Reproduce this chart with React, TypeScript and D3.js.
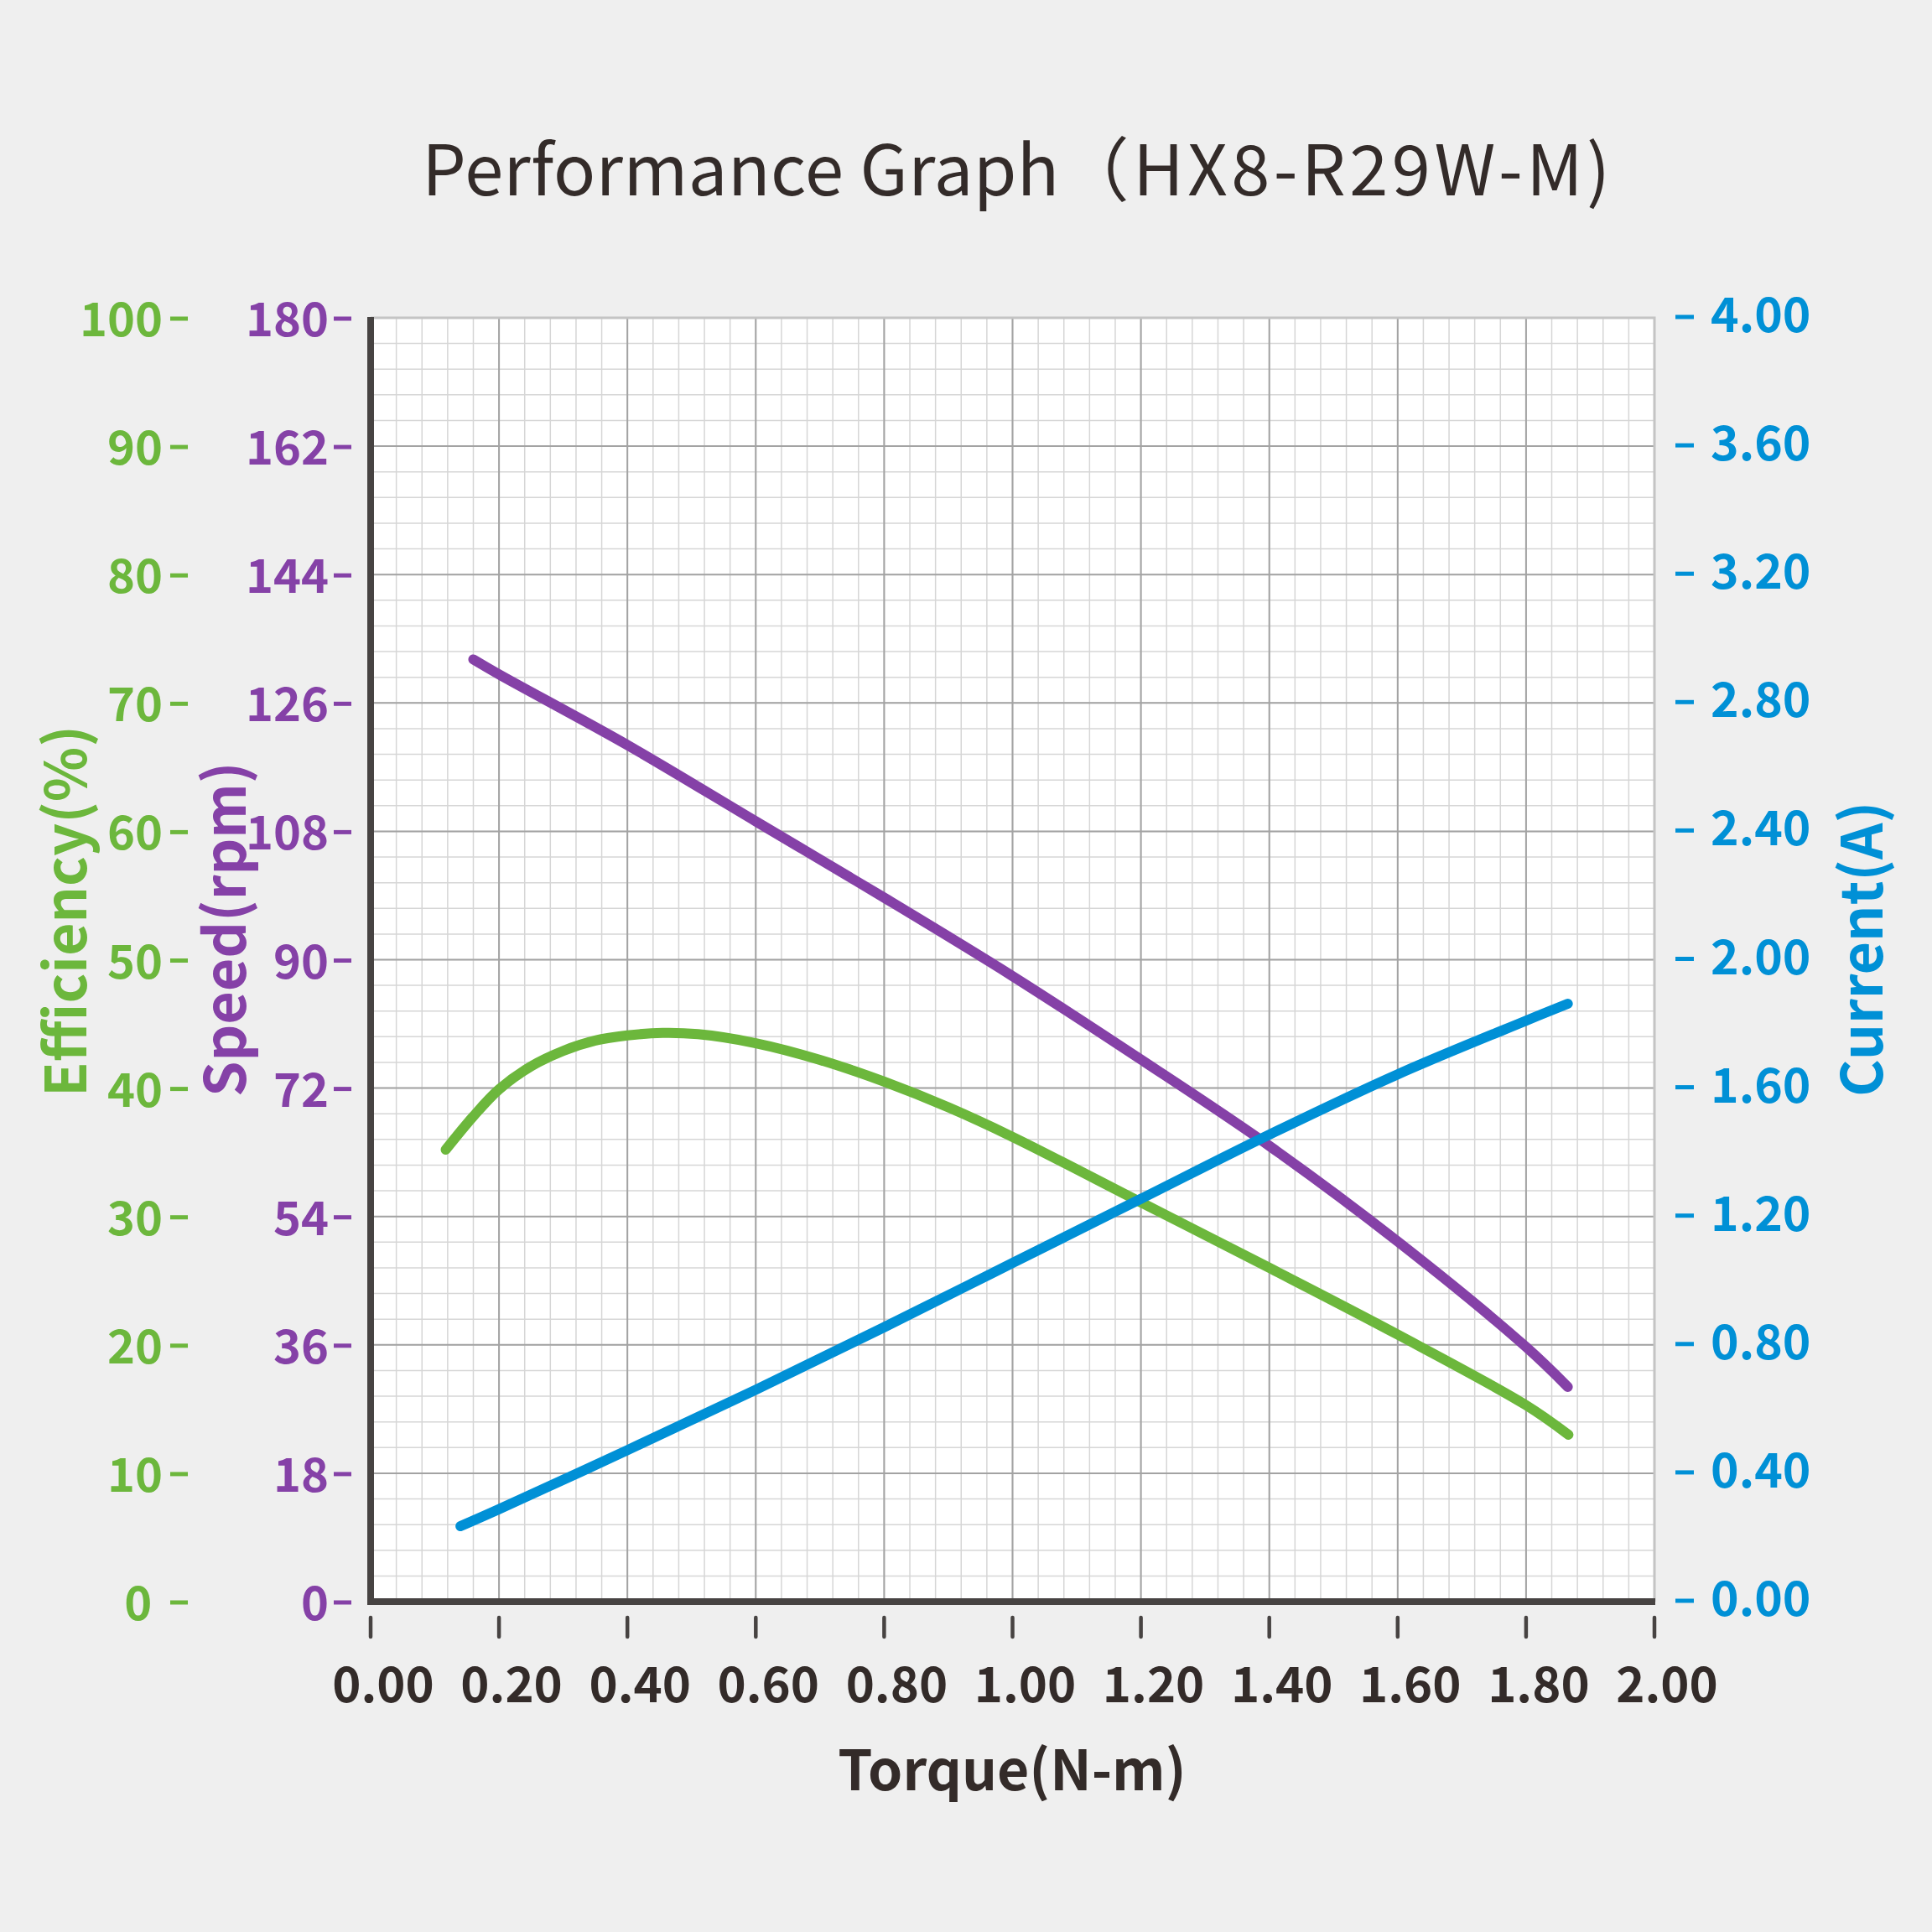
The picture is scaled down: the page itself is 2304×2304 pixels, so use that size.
import * as d3 from 'd3';
import { useEffect, useRef } from 'react';

// Axis ticks
const torqueTicks = [0, 0.2, 0.4, 0.6, 0.8, 1.0, 1.2, 1.4, 1.6, 1.8, 2.0];
const torqueLabels = ['0.00', '0.20', '0.40', '0.60', '0.80', '1.00', '1.20', '1.40', '1.60', '1.80', '2.00'];
const efficiencyTicks = [0, 10, 20, 30, 40, 50, 60, 70, 80, 90, 100];
const efficiencyLabels = ['0 ', '10', '20', '30', '40', '50', '60', '70', '80', '90', '100'];
const speedTicks = [0, 18, 36, 54, 72, 90, 108, 126, 144, 162, 180];
const speedLabels = ['0', '18', '36', '54', '72', '90', '108', '126', '144', '162', '180'];
const currentTicks = [0, 0.4, 0.8, 1.2, 1.6, 2.0, 2.4, 2.8, 3.2, 3.6, 4.0];
const currentLabels = ['0.00', '0.40', '0.80', '1.20', '1.60', '2.00', '2.40', '2.80', '3.20', '3.60', '4.00'];

// Speed curve (rpm)
const speedTorque = [0.16, 0.2, 0.4, 0.6, 0.8, 1.0, 1.2, 1.4, 1.6, 1.8, 1.865];
const speedRpm = [132.1, 130.0, 120.1, 109.4, 98.7, 87.7, 76.0, 63.9, 50.5, 35.7, 30.1];

// Efficiency curve (%)
const effTorque = [0.117, 0.16, 0.2, 0.25, 0.3, 0.35, 0.4, 0.455, 0.51, 0.6, 0.7, 0.8, 0.9, 1.0, 1.2, 1.4, 1.6, 1.8, 1.866];
const effValues = [35.2, 37.8, 39.9, 41.7, 42.9, 43.7, 44.1, 44.3, 44.2, 43.5, 42.2, 40.5, 38.5, 36.2, 31.1, 26.0, 20.8, 15.3, 13.0];

// Current curve (A)
const currentTorque = [0.14, 0.2, 0.4, 0.6, 0.8, 1.0, 1.2, 1.4, 1.6, 1.8, 1.865];
const currentValues = [0.235, 0.288, 0.472, 0.66, 0.855, 1.055, 1.255, 1.455, 1.643, 1.81, 1.863];

const FONT = '"Noto Sans CJK SC", "Noto Sans", sans-serif';
const GREEN = '#6cb73c';
const PURPLE = '#8541a7';
const BLUE = '#0090d6';
const DARK = '#474342';
const TEXT = '#332b29';

function App() {
  const svgRef = useRef<SVGSVGElement>(null);

  useEffect(() => {
    if (!svgRef.current) {
      return;
    }
    const svg = d3.select(svgRef.current);
    svg.selectAll('*').remove();

    const W = 2304;
    const H = 2304;
    const plot = { left: 442, top: 379, right: 1973, bottom: 1910 };

    svg.attr('width', W).attr('height', H);
    svg.append('rect').attr('width', W).attr('height', H).attr('fill', '#efefef');

    // Scales
    const x = d3.scaleLinear().domain([0, 2]).range([plot.left, plot.right]);
    const yEff = d3.scaleLinear().domain([0, 100]).range([plot.bottom, plot.top]);
    const ySpeed = d3.scaleLinear().domain([0, 180]).range([plot.bottom, plot.top]);
    const yCur = d3.scaleLinear().domain([0, 4]).range([plot.bottom, plot.top]);

    svg
      .append('rect')
      .attr('x', plot.left)
      .attr('y', plot.top)
      .attr('width', plot.right - plot.left)
      .attr('height', plot.bottom - plot.top)
      .attr('fill', '#ffffff');

    // Grid: 5 minor divisions per major
    const minorX = d3.range(0, 51).map((i) => i * 0.04);
    const minorY = d3.range(0, 51).map((i) => i * 3.6);
    const grid = svg.append('g');

    grid
      .selectAll('line.minor-x')
      .data(minorX)
      .join('line')
      .attr('x1', (d) => x(d))
      .attr('x2', (d) => x(d))
      .attr('y1', plot.top)
      .attr('y2', plot.bottom)
      .attr('stroke', '#d6d6d6')
      .attr('stroke-width', 1.5);

    grid
      .selectAll('line.minor-y')
      .data(minorY)
      .join('line')
      .attr('x1', plot.left)
      .attr('x2', plot.right)
      .attr('y1', (d) => ySpeed(d))
      .attr('y2', (d) => ySpeed(d))
      .attr('stroke', '#d6d6d6')
      .attr('stroke-width', 1.5);

    grid
      .selectAll('line.major-x')
      .data(torqueTicks)
      .join('line')
      .attr('x1', (d) => x(d))
      .attr('x2', (d) => x(d))
      .attr('y1', plot.top)
      .attr('y2', plot.bottom)
      .attr('stroke', '#a3a3a3')
      .attr('stroke-width', 2);

    grid
      .selectAll('line.major-y')
      .data(speedTicks)
      .join('line')
      .attr('x1', plot.left)
      .attr('x2', plot.right)
      .attr('y1', (d) => ySpeed(d))
      .attr('y2', (d) => ySpeed(d))
      .attr('stroke', '#a3a3a3')
      .attr('stroke-width', 2);

    // Light border on top and right
    svg
      .append('path')
      .attr('d', `M${plot.left},${plot.top}H${plot.right}V${plot.bottom}`)
      .attr('fill', 'none')
      .attr('stroke', '#c4c4c4')
      .attr('stroke-width', 3);

    // Curves
    const curves = [
      { xs: effTorque, ys: effValues, scale: yEff, color: GREEN },
      { xs: speedTorque, ys: speedRpm, scale: ySpeed, color: PURPLE },
      { xs: currentTorque, ys: currentValues, scale: yCur, color: BLUE },
    ];

    curves.forEach((c) => {
      const pts = c.xs.map((t, i) => [t, c.ys[i]] as [number, number]);
      const line = d3
        .line<[number, number]>()
        .x((d) => x(d[0]))
        .y((d) => c.scale(d[1]))
        .curve(d3.curveCatmullRom.alpha(0.5));
      svg
        .append('path')
        .datum(pts)
        .attr('fill', 'none')
        .attr('stroke', c.color)
        .attr('stroke-width', 12)
        .attr('stroke-linecap', 'round')
        .attr('stroke-linejoin', 'round')
        .attr('d', line);
    });

    // Main axes lines
    svg
      .append('path')
      .attr('d', `M${plot.left},${plot.top - 1}V${plot.bottom}H${plot.right + 1}`)
      .attr('fill', 'none')
      .attr('stroke', DARK)
      .attr('stroke-width', 8);

    // X ticks
    const xAxis = svg.append('g');
    xAxis
      .selectAll('line')
      .data(torqueTicks)
      .join('line')
      .attr('x1', (d) => x(d))
      .attr('x2', (d) => x(d))
      .attr('y1', 1929)
      .attr('y2', 1952)
      .attr('stroke', DARK)
      .attr('stroke-width', 4.5)
      .attr('stroke-linecap', 'round');

    xAxis
      .selectAll('text')
      .data(torqueTicks)
      .join('text')
      .attr('x', (d) => x(d) + 15)
      .attr('y', 2030)
      .attr('text-anchor', 'middle')
      .attr('font-family', FONT)
      .attr('font-weight', 700)
      .attr('font-size', 58)
      .attr('fill', TEXT)
      .text((_, i) => torqueLabels[i]);

    // Left axes (efficiency, speed) and right axis (current)
    const leftAxes = [
      { ticks: efficiencyTicks, labels: efficiencyLabels, scale: yEff, color: GREEN, dashEnd: 224, textEnd: 194 },
      { ticks: speedTicks, labels: speedLabels, scale: ySpeed, color: PURPLE, dashEnd: 419, textEnd: 392 },
    ];

    leftAxes.forEach((a) => {
      const g = svg.append('g');
      g.selectAll('line')
        .data(a.ticks)
        .join('line')
        .attr('x1', a.dashEnd - 21)
        .attr('x2', a.dashEnd)
        .attr('y1', (d) => a.scale(d) + 1)
        .attr('y2', (d) => a.scale(d) + 1)
        .attr('stroke', a.color)
        .attr('stroke-width', 5);
      g.selectAll('text')
        .data(a.ticks)
        .join('text')
        .attr('x', a.textEnd)
        .attr('y', (d) => a.scale(d) + 22)
        .attr('text-anchor', 'end')
        .attr('font-family', FONT)
        .attr('font-weight', 700)
        .attr('font-size', 56)
        .attr('fill', a.color)
        .style('white-space', 'pre')
        .text((_, i) => a.labels[i]);
    });

    const rightAxis = svg.append('g');
    rightAxis
      .selectAll('line')
      .data(currentTicks)
      .join('line')
      .attr('x1', 1998)
      .attr('x2', 2020)
      .attr('y1', (d) => yCur(d) - 1)
      .attr('y2', (d) => yCur(d) - 1)
      .attr('stroke', BLUE)
      .attr('stroke-width', 5);
    rightAxis
      .selectAll('text')
      .data(currentTicks)
      .join('text')
      .attr('x', 2040)
      .attr('y', (d) => yCur(d) + 17)
      .attr('font-family', FONT)
      .attr('font-weight', 700)
      .attr('font-size', 57)
      .attr('fill', BLUE)
      .text((_, i) => currentLabels[i]);

    // Axis titles
    const titles = [
      { text: 'Efficiency(%)', x: 103, color: GREEN },
      { text: 'Speed(rpm)', x: 293, color: PURPLE },
      { text: 'Current(A)', x: 2245, color: BLUE },
    ];
    titles.forEach((t) => {
      svg
        .append('text')
        .attr('transform', `translate(${t.x},1308) rotate(-90)`)
        .attr('font-family', FONT)
        .attr('font-weight', 700)
        .attr('font-size', 68)
        .attr('fill', t.color)
        .text(t.text);
    });

    svg
      .append('text')
      .attr('x', 1207)
      .attr('y', 2135)
      .attr('text-anchor', 'middle')
      .attr('font-family', FONT)
      .attr('font-weight', 700)
      .attr('font-size', 66)
      .attr('fill', TEXT)
      .text('Torque(N-m)');

    // Title
    const title = svg
      .append('text')
      .attr('x', 1214)
      .attr('y', 233)
      .attr('text-anchor', 'middle')
      .attr('font-family', FONT)
      .attr('font-weight', 400)
      .attr('font-size', 83)
      .attr('fill', TEXT);
    title.append('tspan').attr('letter-spacing', 0.5).text('Performance Graph');
    title.append('tspan').attr('letter-spacing', 4.5).text('（HX8-R29W-M)');
  }, []);

  return (
    <div style={{ position: 'absolute', left: 0, top: 0 }}>
      <svg ref={svgRef} style={{ display: 'block' }} />
    </div>
  );
}

export default App;
